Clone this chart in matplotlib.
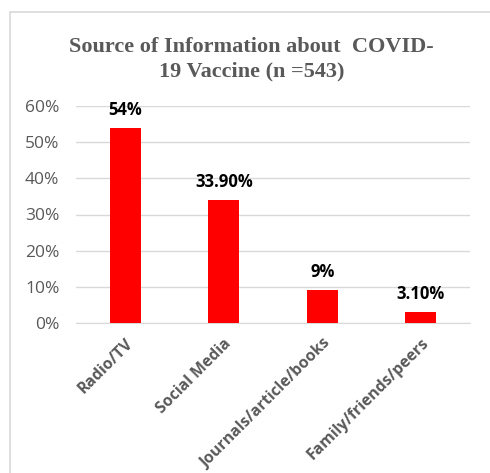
import matplotlib.pyplot as plt
from matplotlib.patches import Rectangle

# Source of information about the COVID-19 vaccine
sources = ["Radio/TV", "Social Media", "Journals/article/books", "Family/friends/peers"]
shares = [0.54, 0.339, 0.09, 0.031]
labels = ["54%", "33.90%", "9%", "3.10%"]
yticks = [0, 0.1, 0.2, 0.3, 0.4, 0.5, 0.6]
title_lines = ["Source of Information about  COVID-", "19 Vaccine (n =543)"]

grey = "#595959"

fig = plt.figure(figsize=(4.9, 4.73), dpi=100)
fig.patches.append(Rectangle((10 / 490, -0.05), 1.1, 1 - 12 / 473 + 0.05,
                             transform=fig.transFigure, fill=False,
                             edgecolor="#d9d9d9", linewidth=1.2))

ax = fig.add_axes([76 / 490, 1 - 323 / 473, 394 / 490, 217 / 473])
x = range(len(sources))
ax.bar(x, shares, width=0.315, color="#ff0000", zorder=3)

for i, (v, t) in enumerate(zip(shares, labels)):
    ax.text(i, v + 0.025, t, ha="center", va="bottom", fontsize=12,
            fontweight="bold", family="Open Sans", color="black")

ax.set_xlim(-0.5, len(sources) - 0.5)
ax.set_ylim(0, 0.6)
ax.set_yticks(yticks)
ax.set_yticklabels([f"{int(round(t * 100))}%" for t in yticks],
                   fontsize=12.5, color=grey, family="Open Sans")
ax.set_xticks(list(x))
ax.set_xticklabels(sources, rotation=45, ha="right", rotation_mode="anchor",
                   fontsize=11.3, fontweight="bold", color=grey, family="Open Sans")
ax.tick_params(axis="y", length=0, pad=12)
ax.tick_params(axis="x", length=0, pad=9)
ax.grid(axis="y", color="#d9d9d9", linewidth=1, zorder=0)
for s in ["top", "right", "left"]:
    ax.spines[s].set_visible(False)
ax.spines["bottom"].set_color("#d9d9d9")

for k, line in enumerate(title_lines):
    fig.text(0.513, 1 - (47 + 24 * k) / 473, line, ha="center", va="center",
             fontsize=16, fontweight="bold", family="Liberation Serif", color=grey)

fig.savefig("out.png", dpi=100)
